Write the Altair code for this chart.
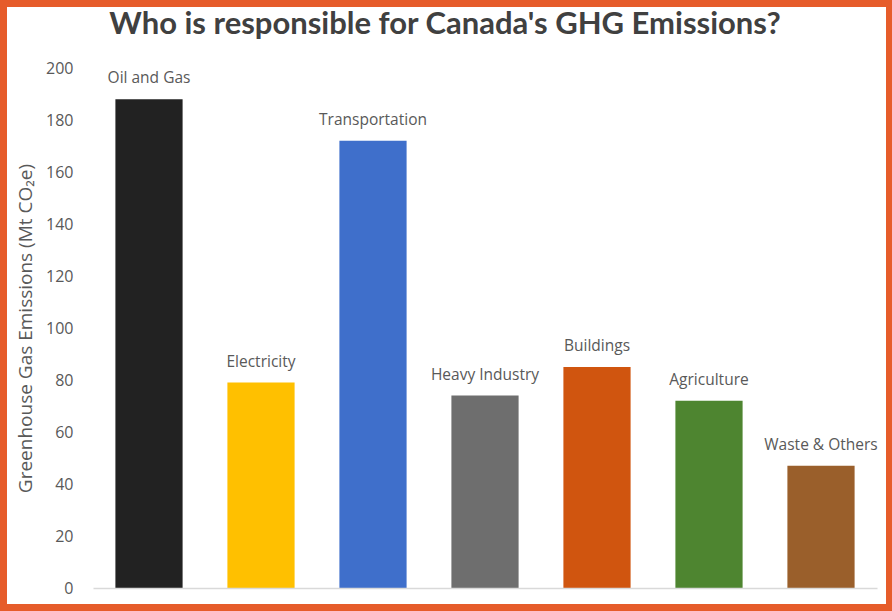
import altair as alt
import pandas as pd

sectors = ["Oil and Gas", "Electricity", "Transportation", "Heavy Industry",
           "Buildings", "Agriculture", "Waste & Others"]
emissions = [188, 79, 172, 74, 85, 72, 47]
colors = ["#222222", "#FFC000", "#3F6FCB", "#6E6E6E", "#D0550F", "#4E8530", "#9A5F2B"]
y_ticks = [0, 20, 40, 60, 80, 100, 120, 140, 160, 180, 200]

df = pd.DataFrame({"sector": sectors, "value": emissions})

W, H = 784, 520
PAD = {"left": 93, "top": 68, "right": 15, "bottom": 23}
FONT = "Open Sans"

panel = alt.Chart(pd.DataFrame({"k": [0]})).mark_rect(color="white", clip=False).encode(
    x=alt.value(7 - PAD["left"]), x2=alt.value(886 - PAD["left"]),
    y=alt.value(7 - PAD["top"]), y2=alt.value(604 - PAD["top"]),
)

base = alt.Chart(df)

bars = base.mark_bar(opacity=1).encode(
    x=alt.X("sector:N", sort=sectors,
            scale=alt.Scale(paddingInner=0.4, paddingOuter=0.2),
            axis=alt.Axis(labels=False, ticks=False, title=None, domainColor="#D9D9D9",
                          domainWidth=1.5, zindex=1)),
    y=alt.Y("value:Q", scale=alt.Scale(domain=[0, 200], nice=False),
            axis=alt.Axis(values=y_ticks, grid=False, domain=False, ticks=False,
                          labelPadding=20, labelFontSize=16, labelColor="#595959",
                          labelFont=FONT,
                          title="Greenhouse Gas Emissions (Mt CO₂e)",
                          titleFont=FONT, titleFontSize=19, titleFontWeight="normal",
                          titleColor="#595959", titlePadding=10, zindex=1)),
    color=alt.Color("sector:N", sort=sectors,
                    scale=alt.Scale(domain=sectors, range=colors), legend=None),
)

labels = base.mark_text(dy=-21, font=FONT, fontSize=15.5, color="#595959", baseline="middle").encode(
    x=alt.X("sector:N", sort=sectors),
    y="value:Q",
    text="sector:N",
)

chart = alt.layer(panel, bars, labels).properties(
    width=W, height=H,
    padding=PAD,
    autosize=alt.AutoSizeParams(type="none"),
    background="#E65C2A",
    title=alt.TitleParams("Who is responsible for Canada's GHG Emissions?",
                          font="Lato", fontSize=31, fontWeight="bold", color="#404040",
                          anchor="middle", frame="group", baseline="alphabetic",
                          dx=-40, dy=58, offset=0, zindex=1),
).configure_view(stroke=None)

chart.save("out.html", embed_options={"renderer": "svg", "actions": False})
